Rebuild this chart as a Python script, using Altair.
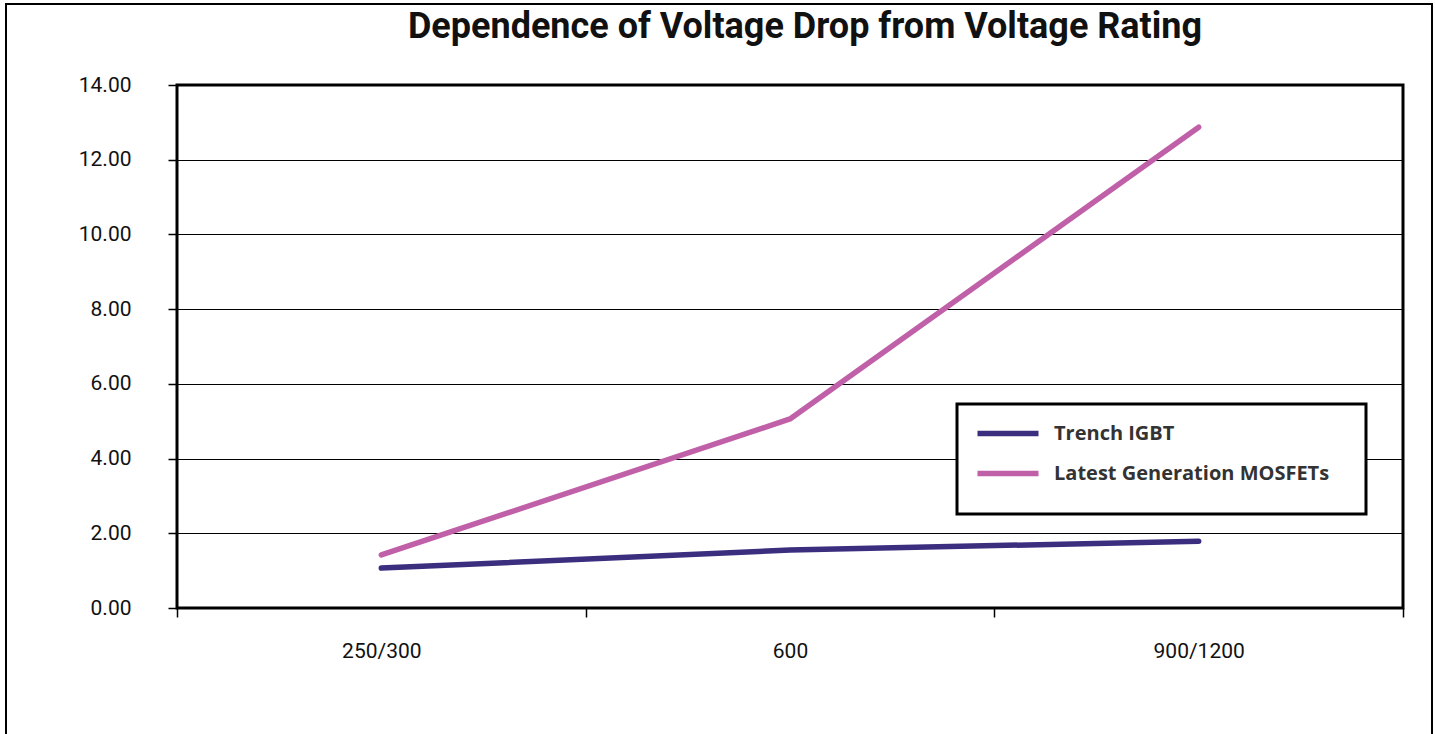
import altair as alt
import pandas as pd

categories = ["250/300", "600", "900/1200"]
series = ["Trench IGBT", "Latest Generation MOSFETs"]
igbt = [1.07, 1.55, 1.79]
mosfet = [1.42, 5.06, 12.87]
colors = ["#3b2e7e", "#c060a8"]
y_ticks = [0, 2, 4, 6, 8, 10, 12, 14]

rows = []
for name, vals in zip(series, [igbt, mosfet]):
    for c, v in zip(categories, vals):
        rows.append({"rating": c, "series": name, "drop": v})
df = pd.DataFrame(rows)

NARROW = "Roboto"
W, H = 1226, 523

lines = alt.Chart(df).mark_line(strokeWidth=5.5, strokeCap="round", strokeJoin="round").encode(
    x=alt.X("rating:N", sort=categories,
            scale=alt.Scale(paddingInner=0, paddingOuter=0),
            axis=alt.Axis(title=None, labelAngle=0, tickBand="extent", tickSize=9,
                          tickColor="black", tickWidth=1.5, domain=False, grid=False,
                          labelPadding=23, labelFontSize=21, labelFont=NARROW,
                          labelColor="#111")),
    y=alt.Y("drop:Q", scale=alt.Scale(domain=[0, 14], nice=False),
            axis=alt.Axis(title=None, values=y_ticks, format=".2f", grid=True,
                          gridColor="black", gridWidth=1.2, tickSize=9, tickColor="black",
                          tickWidth=1.5, domain=False, labelPadding=37, labelFontSize=21,
                          labelFont=NARROW, labelColor="#111")),
    color=alt.Color("series:N", sort=series,
                    scale=alt.Scale(domain=series, range=colors),
                    legend=alt.Legend(title=None, orient="none", legendX=818, legendY=335.5,
                                      symbolType="M-3.05,0H3.05", symbolSize=400,
                                      symbolStrokeWidth=5.5, labelFont="Open Sans",
                                      labelFontSize=20, labelFontWeight="bold",
                                      labelColor="#333", labelOffset=33, rowPadding=16,
                                      padding=0, labelLimit=400)),
)

frame = alt.Chart(pd.DataFrame({"k": [0]})).mark_rect(
    filled=False, stroke="black", strokeWidth=2
).encode(x=alt.value(-171), x2=alt.value(1255), y=alt.value(-81), y2=alt.value(700))

legend_box = alt.Chart(pd.DataFrame({"k": [0]})).mark_rect(
    fill="white", stroke="black", strokeWidth=3
).encode(x=alt.value(780), x2=alt.value(1189), y=alt.value(319), y2=alt.value(429))

chart = alt.layer(frame, lines, legend_box).properties(
    width=W, height=H,
    title=alt.Title("Dependence of Voltage Drop from Voltage Rating", font=NARROW,
                    fontSize=36, fontWeight="bold", color="#111", anchor="middle",
                    frame="group", baseline="alphabetic", offset=0, dy=71, dx=15),
    autosize=alt.AutoSizeParams(type="none"),
    padding={"left": 177, "top": 85, "right": 32, "bottom": 126},
    background="white",
).configure_view(stroke="black", strokeWidth=3)

chart.save("out.html", embed_options={"renderer": "svg", "actions": False})
